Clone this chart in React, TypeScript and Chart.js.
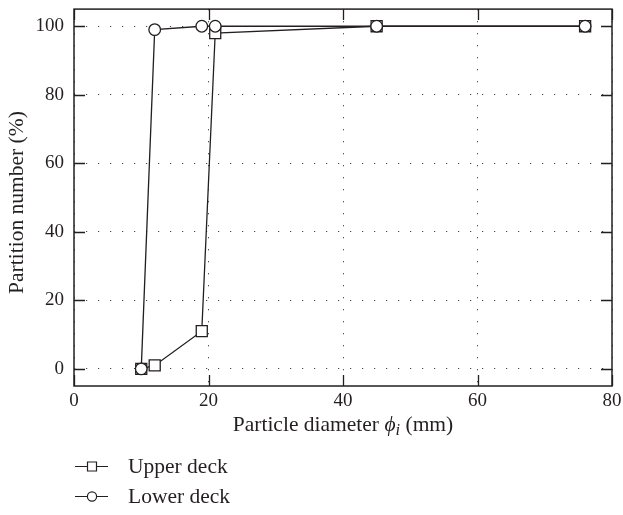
import React, { useEffect, useRef } from "react";
import { Chart, registerables } from "chart.js";

Chart.register(...registerables);

// ---- data ----
const particleDiameter = [10, 12, 19, 21, 45, 76];
const upperDeck = [0, 1, 11, 98, 100, 100];
const lowerDeck = [0, 99, 100, 100, 100, 100];
const xTicks = [0, 20, 40, 60, 80];
const yTicks = [0, 20, 40, 60, 80, 100];
const seriesNames = ["Upper deck", "Lower deck"];
const yTitle = "Partition number (%)";
const xTitleParts = ["Particle diameter ", "ϕ", "i", " (mm)"];

const FAMILY = '"Liberation Serif", "Times New Roman", serif';
const INK = "#231f20";
const FS = 19;
const TS = 21.5;

const framePlugin = {
  id: "frameTicks",
  beforeDatasetsDraw(chart: any) {
    const { ctx, chartArea: a, scales } = chart;
    const len = 11;
    ctx.save();
    ctx.strokeStyle = INK;
    ctx.lineWidth = 1.3;
    ctx.beginPath();
    for (const v of xTicks) {
      const px = Math.round(scales.x.getPixelForValue(v)) + 0.5;
      ctx.moveTo(px, a.bottom);
      ctx.lineTo(px, a.bottom - len);
      ctx.moveTo(px, a.top);
      ctx.lineTo(px, a.top + len);
    }
    for (const v of yTicks) {
      const py = Math.round(scales.y.getPixelForValue(v)) + 0.5;
      ctx.moveTo(a.left, py);
      ctx.lineTo(a.left + len, py);
      ctx.moveTo(a.right, py);
      ctx.lineTo(a.right - len, py);
    }
    ctx.stroke();
    ctx.lineWidth = 1.5;
    ctx.strokeRect(a.left, a.top, a.right - a.left, a.bottom - a.top);
    ctx.restore();
  },
  afterDraw(chart: any) {
    const { ctx, chartArea: a } = chart;
    ctx.save();
    ctx.fillStyle = INK;
    // y title
    ctx.save();
    ctx.translate(17, (a.top + a.bottom) / 2 + 5);
    ctx.rotate(-Math.PI / 2);
    ctx.font = `${TS}px ${FAMILY}`;
    ctx.textAlign = "center";
    ctx.textBaseline = "middle";
    ctx.fillText(yTitle, 0, 0);
    ctx.restore();
    // x title with italic phi and subscript i
    const fonts = [
      `${TS}px ${FAMILY}`,
      `italic ${TS}px ${FAMILY}`,
      `italic ${TS - 5}px ${FAMILY}`,
      `${TS}px ${FAMILY}`,
    ];
    const dys = [0, 0, 4, 0];
    let total = 0;
    const widths = xTitleParts.map((t, i) => {
      ctx.font = fonts[i];
      const w = ctx.measureText(t).width;
      total += w;
      return w;
    });
    let x = (a.left + a.right) / 2 - total / 2;
    const base = 431;
    ctx.textAlign = "left";
    ctx.textBaseline = "alphabetic";
    xTitleParts.forEach((t, i) => {
      ctx.font = fonts[i];
      ctx.fillText(t, x, base + dys[i]);
      x += widths[i];
    });
    // legend
    const rows = [466, 496];
    const styles = ["rect", "circle"];
    rows.forEach((ry, i) => {
      ctx.strokeStyle = INK;
      ctx.lineWidth = 1.2;
      ctx.beginPath();
      ctx.moveTo(75, ry + 0.5);
      ctx.lineTo(108, ry + 0.5);
      ctx.stroke();
      ctx.fillStyle = "#fff";
      ctx.beginPath();
      if (styles[i] === "rect") {
        ctx.rect(87.5, ry - 4, 9, 9);
      } else {
        ctx.arc(92, ry + 0.5, 4.6, 0, Math.PI * 2);
      }
      ctx.fill();
      ctx.stroke();
      ctx.fillStyle = INK;
      ctx.font = `${TS}px ${FAMILY}`;
      ctx.textBaseline = "middle";
      ctx.fillText(seriesNames[i], 128, ry + 1);
    });
    ctx.restore();
  },
};

export default function App() {
  const ref = useRef<HTMLCanvasElement | null>(null);
  useEffect(() => {
    document.body.style.margin = "0";
    if (!ref.current) return;
    const mk = (ys: number[]) => particleDiameter.map((x, i) => ({ x, y: ys[i] }));
    const chart = new Chart(ref.current, {
      type: "scatter",
      data: {
        datasets: [
          {
            label: seriesNames[0],
            data: mk(upperDeck),
            showLine: true,
            borderColor: INK,
            borderWidth: 1.3,
            pointStyle: "rect",
            pointRadius: 7.8,
            pointBackgroundColor: "#fff",
            pointBorderColor: INK,
            pointBorderWidth: 1.3,
            order: 2,
          },
          {
            label: seriesNames[1],
            data: mk(lowerDeck),
            showLine: true,
            borderColor: INK,
            borderWidth: 1.3,
            pointStyle: "circle",
            pointRadius: 5.8,
            pointBackgroundColor: "#fff",
            pointBorderColor: INK,
            pointBorderWidth: 1.3,
            order: 1,
          },
        ],
      },
      options: {
        responsive: false,
        animation: false,
        layout: { padding: { left: 0, right: 11, top: 2, bottom: 89 } },
        plugins: { legend: { display: false }, tooltip: { enabled: false } },
        scales: {
          x: {
            type: "linear",
            min: 0,
            max: 80,
            afterBuildTicks: (s: any) => {
              s.ticks = xTicks.map((v) => ({ value: v }));
            },
            afterFit: (s: any) => {
              s.height = 40;
              s.paddingLeft = 0;
              s.paddingRight = 0;
            },
            grid: { color: "#444", lineWidth: 1, drawTicks: false },
            border: { display: false, dash: [1.2, 10.8] },
            ticks: {
              padding: 4,
              color: INK,
              font: { family: FAMILY, size: FS },
              maxRotation: 0,
            },
          },
          y: {
            type: "linear",
            min: -5,
            max: 105,
            afterBuildTicks: (s: any) => {
              s.ticks = yTicks.map((v) => ({ value: v }));
            },
            afterFit: (s: any) => {
              s.width = 74;
              s.paddingTop = 0;
              s.paddingBottom = 0;
            },
            grid: { color: "#444", lineWidth: 1, drawTicks: false },
            border: { display: false, dash: [1.2, 10.8] },
            ticks: {
              padding: 10,
              color: INK,
              font: { family: FAMILY, size: FS },
            },
          },
        },
      },
      plugins: [framePlugin],
    } as any);
    return () => chart.destroy();
  }, []);
  return <canvas ref={ref} width={623} height={515} style={{ display: "block" }} />;
}
